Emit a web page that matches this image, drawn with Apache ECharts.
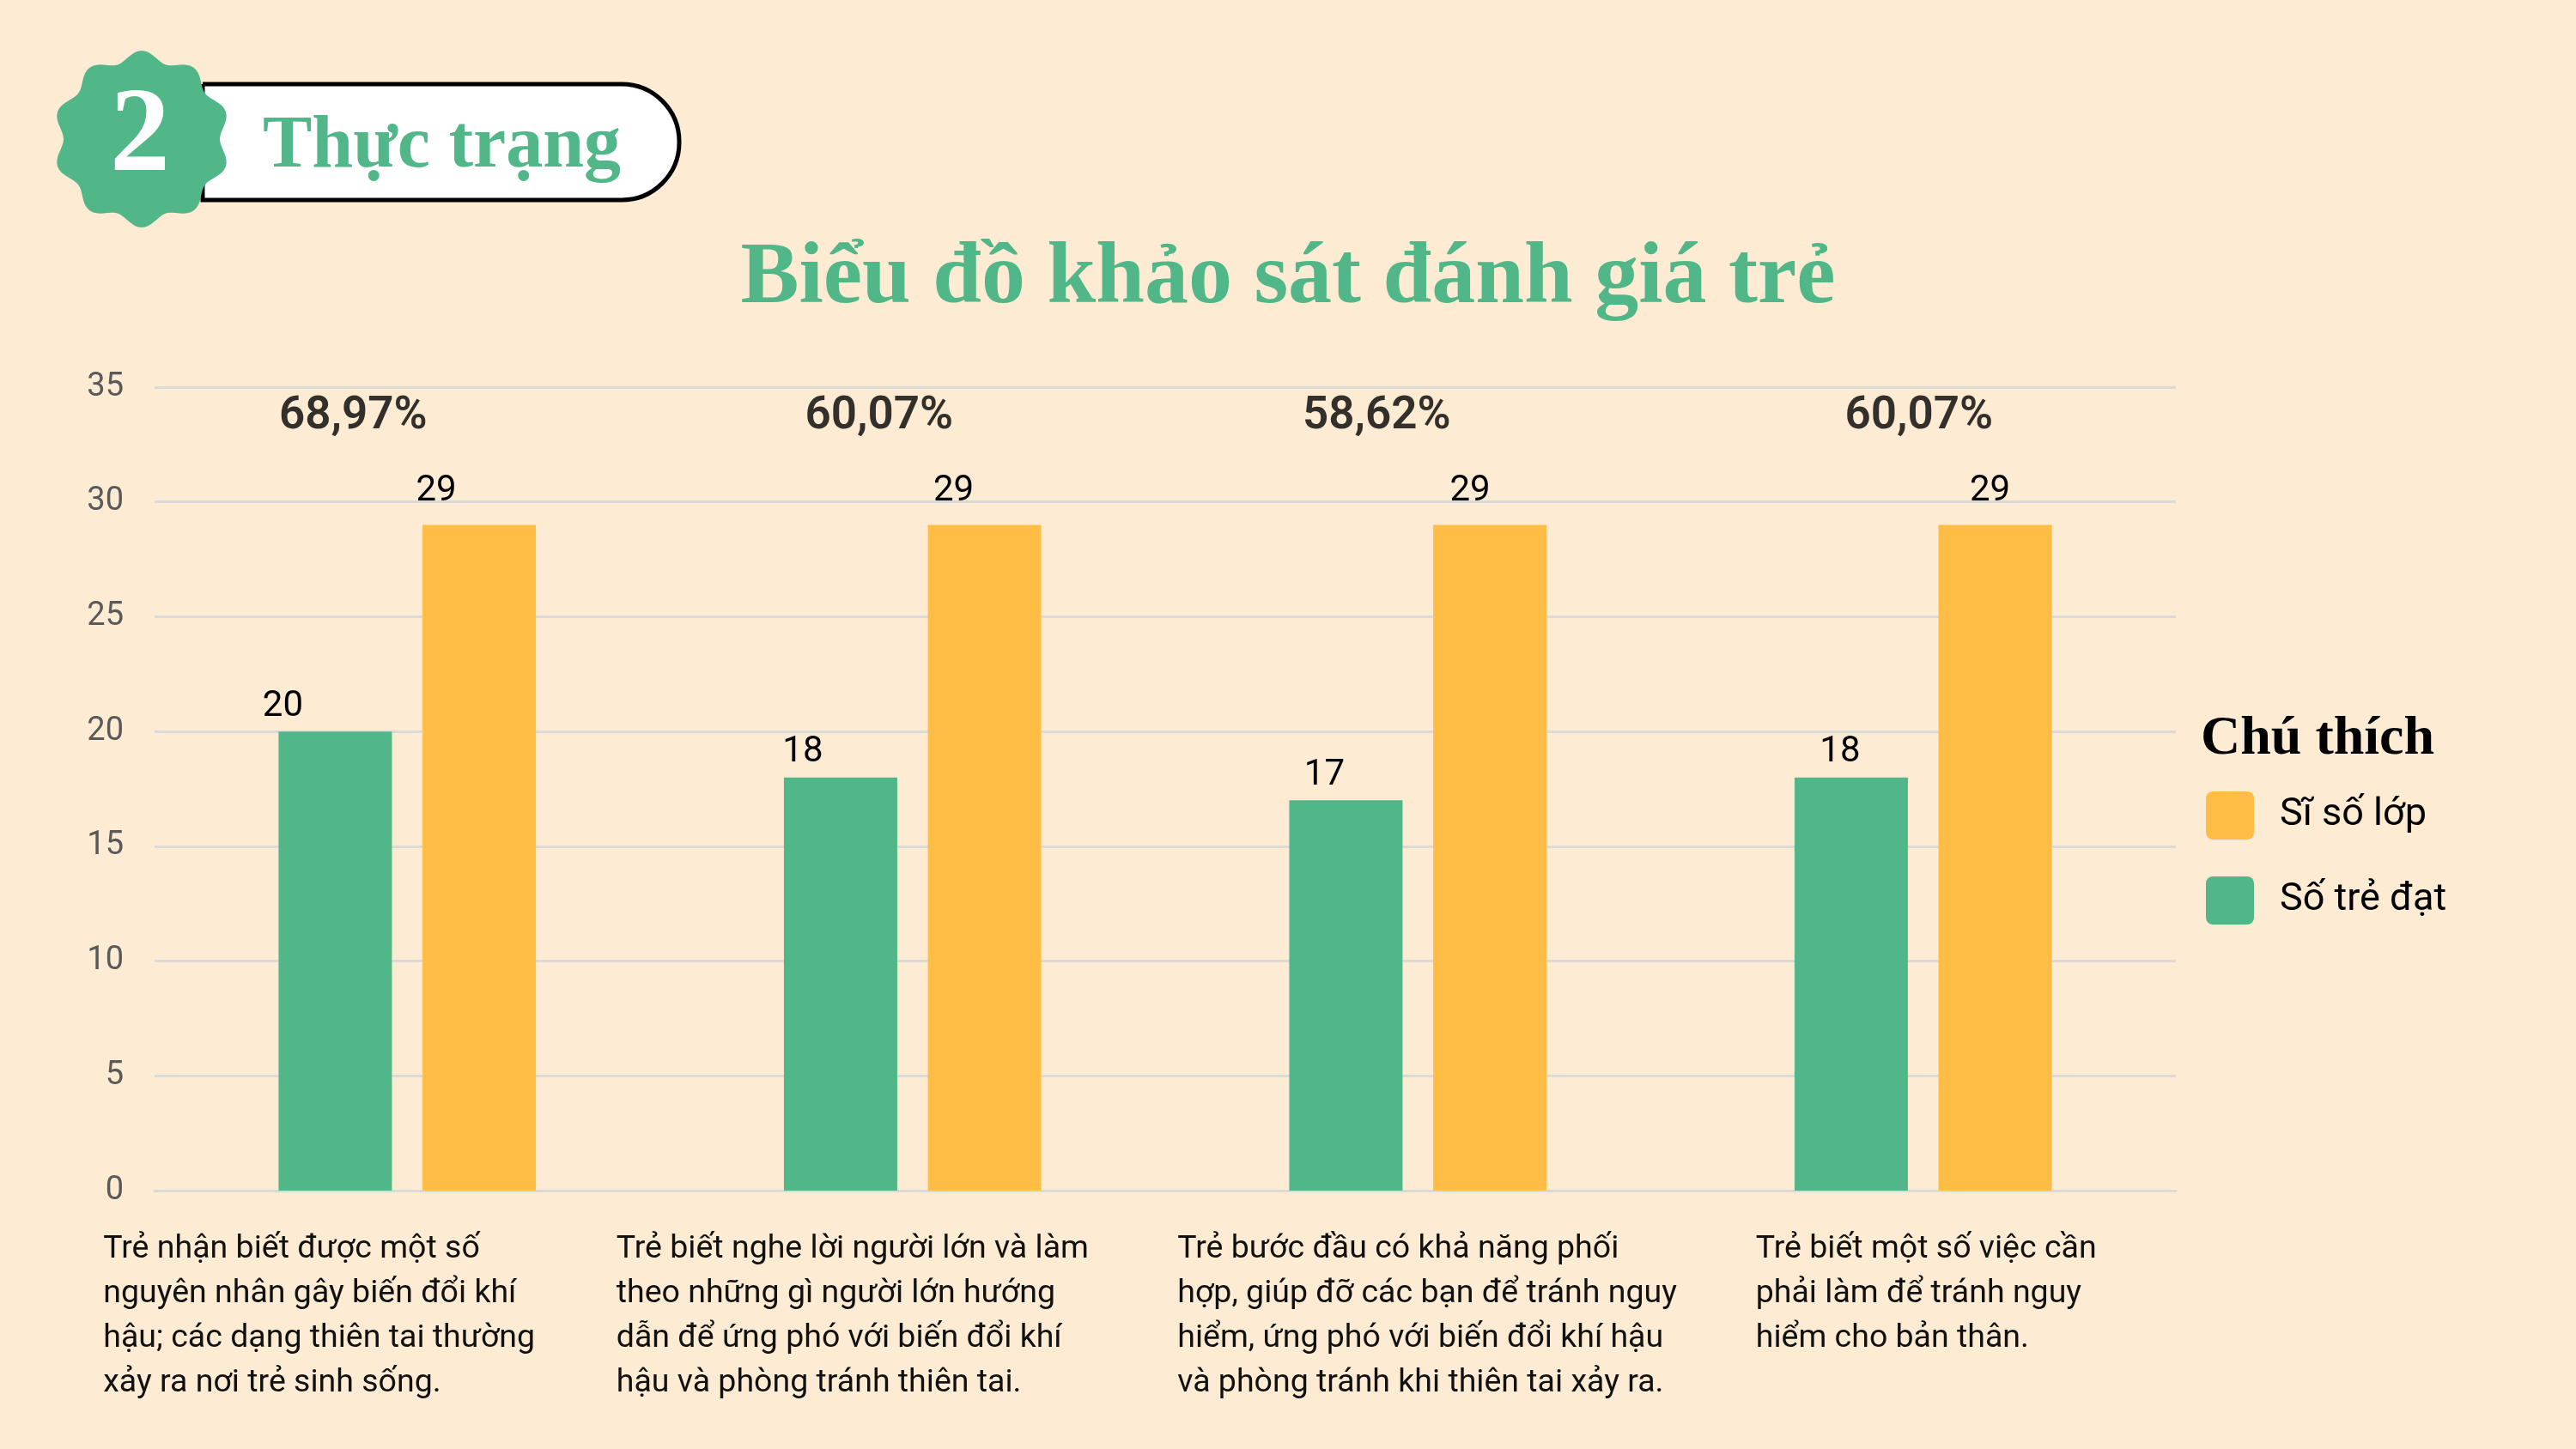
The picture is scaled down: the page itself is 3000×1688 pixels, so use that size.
<!DOCTYPE html>
<html>
<head>
<meta charset="utf-8">
<title>Biểu đồ khảo sát đánh giá trẻ</title>
<script src="https://cdn.jsdelivr.net/npm/echarts@6/dist/echarts.min.js"></script>
<style>
	html, body { margin: 0; padding: 0; background: #FDEBD3; }
	#chart { width: 3000px; height: 1688px; }
</style>
</head>
<body>
<div id="chart"></div>
<script>
// nhãn trục x (ngắt dòng như bản gốc)
var categories = [
	'Trẻ nhận biết được một số\nnguyên nhân gây biến đổi khí\nhậu; các dạng thiên tai thường\nxảy ra nơi trẻ sinh sống.',
	'Trẻ biết nghe lời người lớn và làm\ntheo những gì người lớn hướng\ndẫn để ứng phó với biến đổi khí\nhậu và phòng tránh thiên tai.',
	'Trẻ bước đầu có khả năng phối\nhợp, giúp đỡ các bạn để tránh nguy\nhiểm, ứng phó với biến đổi khí hậu\nvà phòng tránh khi thiên tai xảy ra.',
	'Trẻ biết một số việc cần\nphải làm để tránh nguy\nhiểm cho bản thân.'
]

// số trẻ đạt / sĩ số lớp
var soTreDat = [20, 18, 17, 18]
var siSoLop = [29, 29, 29, 29]

// tỉ lệ ghi trên mỗi nhóm (giữ nguyên như bản gốc)
var tiLe = ['68,97%', '60,07%', '58,62%', '60,07%']

// trục y
var yMin = 0, yMax = 35, yStep = 5
// mức đặt dòng tỉ lệ
var tiLeLevel = 33.7

var GREEN = '#52B788'
var ORANGE = '#FFBD45'

// dịch nhãn sang trái như bản gốc
var nudgeDat = [-61, -44, -25, -13]
var nudgeLop = [-50, -36, -23, -6]
var nudgeTiLe = [-63, -39, -48, -5]
// bề rộng hộp chữ dưới trục (canh lề trái)
var boxW = [708, 690, 560, 390]

var rich = {}
boxW.forEach(function (w, i) {
	rich['c' + i] = {
		width: w,
		align: 'left',
		fontFamily: 'Roboto',
		fontSize: 37.5,
		lineHeight: 52,
		color: '#111'
	}
})

// huy hiệu lượn sóng
var badge = []
for (var k = 0; k < 160; k++) {
	var a = k / 160 * Math.PI * 2
	var r = 97 + 6 * Math.cos(10 * a)
	badge.push([165 + r * Math.sin(a), 162 - r * Math.cos(a)])
}

var chart = echarts.init(document.getElementById('chart'))
var option = {
	backgroundColor: '#FDEBD3',
	animation: false,
	title: [{
		text: 'Biểu đồ khảo sát đánh giá trẻ',
		left: 'center',
		top: 275,
		padding: 0,
		textStyle: { fontFamily: 'Liberation Serif', fontWeight: 'bold', fontSize: 102, color: GREEN }
	}, {
		text: 'Chú thích',
		left: 2563,
		top: 829,
		padding: 0,
		textStyle: { fontFamily: 'Liberation Serif', fontWeight: 'bold', fontSize: 64, color: '#000' }
	}],
	legend: {
		data: ['Sĩ số lớp', 'Số trẻ đạt'],
		orient: 'vertical',
		left: 2569,
		top: 922,
		padding: 0,
		itemWidth: 56,
		itemHeight: 56,
		itemGap: 43,
		icon: 'path://M8,0H48A8,8,0,0,1,56,8V48A8,8,0,0,1,48,56H8A8,8,0,0,1,0,48V8A8,8,0,0,1,8,0Z',
		textStyle: { fontFamily: 'Roboto', fontSize: 45, color: '#000', padding: [0, 0, 0, 25] }
	},
	grid: { left: 180, right: 466, top: 451, bottom: 301, containLabel: false },
	xAxis: {
		type: 'category',
		data: categories,
		axisLine: { lineStyle: { color: '#DCDAD6', width: 3 } },
		axisTick: { show: false },
		axisLabel: {
			interval: 0,
			margin: 43,
			formatter: function (value, index) {
				return '{c' + index + '|' + value + '}'
			},
			rich: rich
		}
	},
	yAxis: {
		type: 'value',
		min: yMin,
		max: yMax,
		interval: yStep,
		axisLine: { show: false },
		axisTick: { show: false },
		axisLabel: { margin: 36, fontFamily: 'Roboto', fontSize: 38, color: '#5A5A5A' },
		splitLine: { lineStyle: { color: '#DCDAD6', width: 3 } }
	},
	series: [{
		name: 'Số trẻ đạt',
		type: 'bar',
		barWidth: 132,
		barGap: '27%',
		itemStyle: { color: GREEN },
		label: {
			show: true,
			position: 'top',
			distance: 8,
			fontFamily: 'Roboto',
			fontSize: 42,
			color: '#000'
		},
		data: soTreDat.map(function (v, i) {
			return { value: v, label: { offset: [nudgeDat[i], 0] } }
		})
	}, {
		name: 'Sĩ số lớp',
		type: 'bar',
		barWidth: 132,
		barGap: '27%',
		itemStyle: { color: ORANGE },
		label: {
			show: true,
			position: 'top',
			distance: 18,
			fontFamily: 'Roboto',
			fontSize: 42,
			color: '#000'
		},
		data: siSoLop.map(function (v, i) {
			return { value: v, label: { offset: [nudgeLop[i], 0] } }
		})
	}, {
		name: 'tiLe',
		type: 'scatter',
		symbolSize: 0,
		silent: true,
		label: {
			show: true,
			position: 'inside',
			fontFamily: 'Roboto',
			fontWeight: 600,
			fontSize: 53,
			color: '#000',
			formatter: function (p) { return p.name }
		},
		data: tiLe.map(function (t, i) {
			return { name: t, value: [i, tiLeLevel], label: { offset: [nudgeTiLe[i], 0] } }
		})
	}],
	graphic: [{
		type: 'rect',
		shape: { x: 236, y: 98, width: 555, height: 135, r: [0, 67, 67, 0] },
		style: { fill: '#FFFFFF', stroke: '#000', lineWidth: 5 },
		z: 10
	}, {
		type: 'polygon',
		shape: { points: badge },
		style: { fill: GREEN },
		z: 11
	}, {
		type: 'text',
		x: 163,
		y: 162,
		style: {
			text: '2',
			fill: '#FFFFFF',
			fontFamily: 'Liberation Serif',
			fontWeight: 'bold',
			fontSize: 140,
			align: 'center',
			verticalAlign: 'middle'
		},
		z: 12
	}, {
		type: 'text',
		x: 306,
		y: 172,
		style: {
			text: 'Thực trạng',
			fill: GREEN,
			fontFamily: 'Liberation Serif',
			fontWeight: 'bold',
			fontSize: 86,
			align: 'left',
			verticalAlign: 'middle'
		},
		z: 12
	}]
}
chart.setOption(option)
</script>
</body>
</html>
